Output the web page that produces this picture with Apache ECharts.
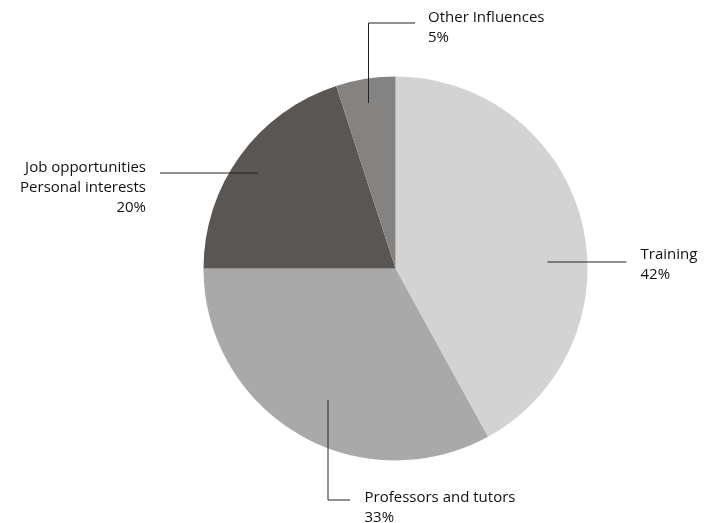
<!DOCTYPE html>
<html><head><meta charset="utf-8">
<script src="https://cdn.jsdelivr.net/npm/echarts@6/dist/echarts.min.js"></script>
<style>html,body{margin:0;padding:0;background:#fff}#c{width:713px;height:523px}</style>
</head><body><div id="c"></div>
<script>
const categories = ['Training', 'Professors and tutors', 'Job opportunities\nPersonal interests', 'Other Influences'];
const values = [42, 33, 20, 5];
const colors = ['#d3d3d3', '#a9a9a9', '#5a5654', '#858381'];

// label anchor layouts relative to pie centre (pixels)
const labelSpecs = [
  { line: [[152, -6.5], [231, -6.5]], tx: 245, ty: -24, align: 'left' },
  { line: [[-67.5, 131.5], [-67.5, 231.5], [-45.5, 231.5]], tx: -31, ty: 219, align: 'left' },
  { line: [[-137.5, -95.5], [-235.5, -95.5]], tx: -249.5, ty: -111, align: 'right' },
  { line: [[-27, -165.5], [-27, -245.5], [19.5, -245.5]], tx: 32.5, ty: -261, align: 'left' }
];

const chart = echarts.init(document.getElementById('c'), null, { renderer: 'canvas' });
const cx = 395.5, cy = 268.5;
const pieData = categories.map((n, i) => ({ name: n, value: values[i], itemStyle: { color: colors[i] } }));
chart.setOption({
  animation: false,
  series: [{
    type: 'pie',
    z: 2,
    center: [cx, cy],
    radius: [0, 192],
    startAngle: 90,
    clockwise: true,
    data: pieData,
    itemStyle: { borderWidth: 0 },
    label: { show: false },
    labelLine: { show: false },
    silent: true
  }, {
    type: 'pie',
    z: 5,
    center: [cx, cy],
    radius: [0, 192],
    startAngle: 90,
    clockwise: true,
    silent: true,
    data: categories.map((n, i) => ({ name: n, value: values[i] })),
    itemStyle: { color: 'rgba(0,0,0,0)', borderWidth: 0 },
    label: {
      show: true,
      formatter: '{b}\n{c}%',
      fontFamily: 'Open Sans',
      fontSize: 15,
      lineHeight: 20,
      color: '#111'
    },
    labelLine: { show: true, lineStyle: { color: '#222', width: 1 } },
    labelLayout: function (p) {
      const s = labelSpecs[p.dataIndex];
      return {
        x: cx + s.tx,
        y: cy + s.ty,
        align: s.align,
        verticalAlign: 'top',
        labelLinePoints: s.line.map(pt => [cx + pt[0], cy + pt[1]])
      };
    }
  }]
});
</script></body></html>
